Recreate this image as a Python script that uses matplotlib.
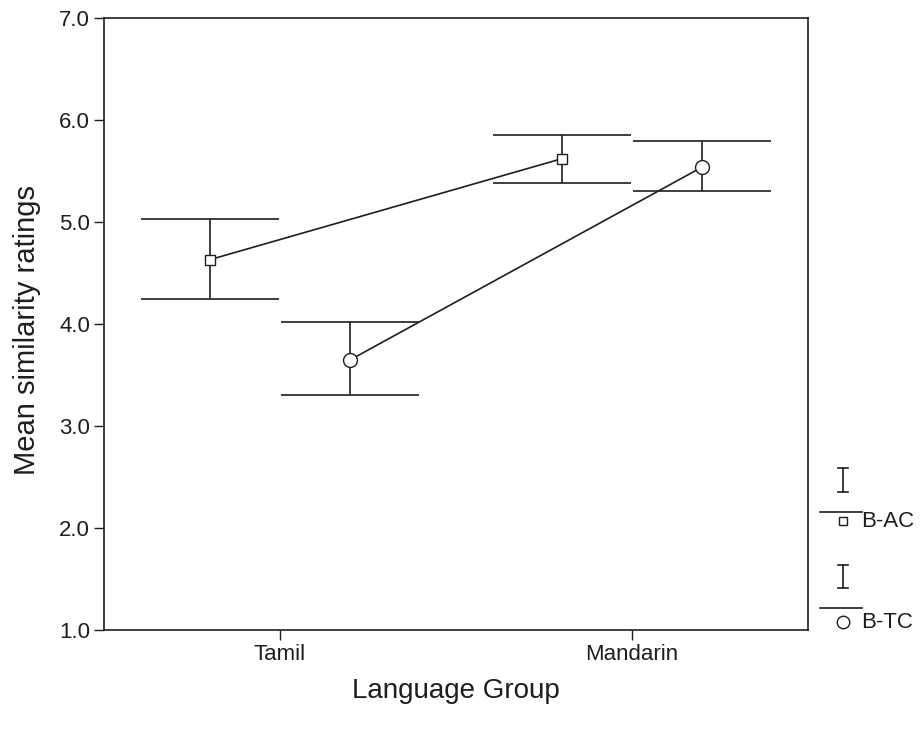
import numpy as np
import matplotlib
matplotlib.use('Agg')
import matplotlib.pyplot as plt

plt.rcParams['font.family'] = ['Liberation Sans', 'DejaVu Sans']

groups = ['Tamil', 'Mandarin']
series = ['B-AC', 'B-TC']
markers = ['s', 'o']
marker_sizes = [7, 10]
offsets = [-0.2, 0.2]

means = {'B-AC': [4.63, 5.62], 'B-TC': [3.65, 5.54]}
upper = {'B-AC': [5.03, 5.85], 'B-TC': [4.02, 5.79]}
lower = {'B-AC': [4.25, 5.38], 'B-TC': [3.30, 5.30]}

ink = '#1e1e1e'

fig = plt.figure(figsize=(9.23, 7.41), dpi=100)
ax = fig.add_axes([0.1127, 0.1498, 0.7627, 0.8259])

x = np.arange(len(groups))
for s, m, ms, off in zip(series, markers, marker_sizes, offsets):
    xs = x + off
    mu = np.array(means[s])
    err = [mu - np.array(lower[s]), np.array(upper[s]) - mu]
    ax.errorbar(xs, mu, yerr=err, fmt='none', ecolor=ink,
                elinewidth=1.2, capsize=50, capthick=1.2)
    ax.plot(xs, mu, color=ink, lw=1.2, marker=m, ms=ms,
            mfc='white', mec=ink, mew=1.0)

ax.set_xlim(-0.5, 1.5)
ax.set_ylim(1.0, 7.0)
ax.set_yticks(np.arange(1, 8))
ax.set_yticklabels(['%.1f' % v for v in np.arange(1, 8)], fontsize=16)
ax.set_xticks(x)
ax.set_xticklabels(groups, fontsize=16)
ax.tick_params(direction='out', length=7, width=1.0, color=ink,
               labelcolor=ink, pad=3)
for sp in ax.spines.values():
    sp.set_linewidth(1.2)
    sp.set_color(ink)

ax.set_ylabel('Mean similarity ratings', fontsize=21, color=ink, va='center')
ax.yaxis.set_label_coords(-0.11, 0.49)
ax.set_xlabel('Language Group', fontsize=20, color=ink, va='center')
ax.xaxis.set_label_coords(0.5, -0.1)

# legend drawn by hand, outside the right spine
tr = ax.transAxes
def legend_entry(y_mark, y_line, y_bar, marker, ms, label):
    # small error-bar glyph
    h = 0.019
    ax.plot([1.05, 1.05], [y_bar - h, y_bar + h], color=ink, lw=1.2,
            transform=tr, clip_on=False)
    for yy in (y_bar - h, y_bar + h):
        ax.plot([1.043, 1.057], [yy, yy], color=ink, lw=1.2,
                transform=tr, clip_on=False)
    ax.plot([1.017, 1.077], [y_line, y_line], color=ink,
            lw=1.2, transform=tr, clip_on=False)
    ax.plot([1.05], [y_mark], marker=marker, ms=ms, mfc='white', mec=ink,
            mew=1.0, transform=tr, clip_on=False)
    ax.text(1.075, y_mark, label, transform=tr, fontsize=16, va='center',
            ha='left', color=ink)

legend_entry(0.178, 0.193, 0.245, 's', 6, 'B-AC')
legend_entry(0.013, 0.036, 0.088, 'o', 9, 'B-TC')

fig.savefig('out.png', dpi=100)
